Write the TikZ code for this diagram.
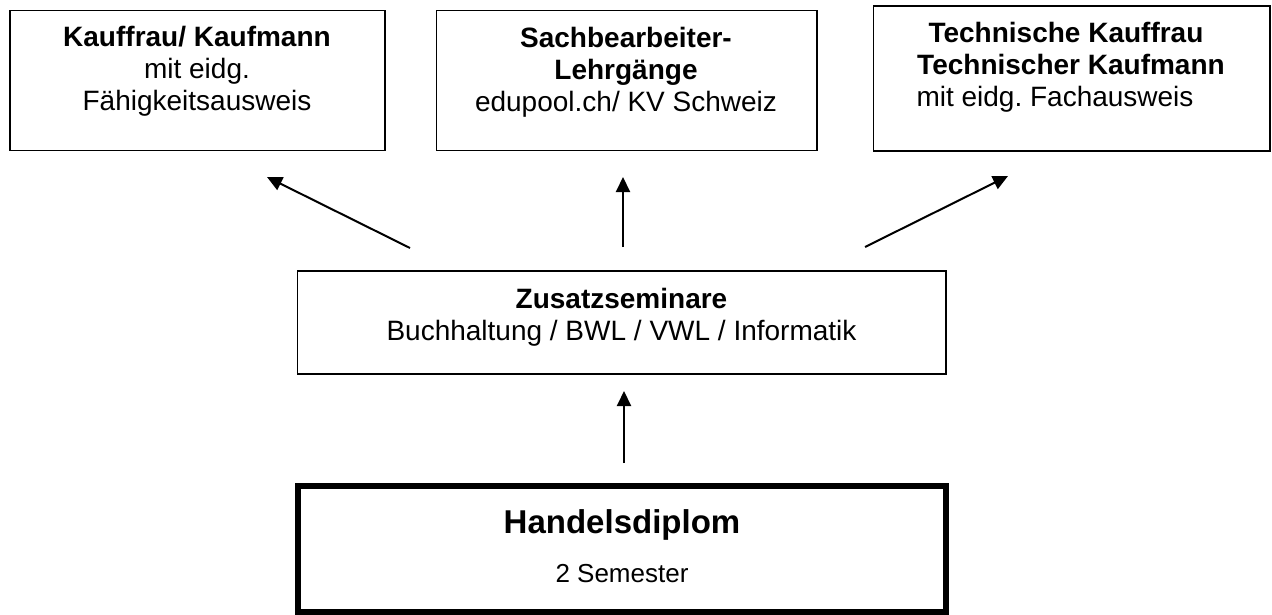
\documentclass[tikz,border=0pt]{standalone}
\usepackage{fontspec}
\setmainfont{Liberation Sans}
\usetikzlibrary{arrows.meta}
\frenchspacing
\begin{document}
\begin{tikzpicture}[x=1pt,y=-1pt,
  box/.style={draw, line width=1.5pt, rectangle, inner sep=0pt, outer sep=0pt},
  thickbox/.style={box, line width=6pt},
  txt/.style={inner sep=0pt, outer sep=0pt, align=center, anchor=north, font=\fontsize{28}{32}\selectfont\frenchspacing},
  arr/.style={line width=2pt, -{Triangle[length=15pt,width=14pt]}}]
\fill[white] (0,0) rectangle (1272,615);
\useasboundingbox (0,0) rectangle (1272,615);

% boxes
\node[box, minimum width=375pt, minimum height=140pt] (kauf) at (197.4,80.5) {};
\node[box, minimum width=380.5pt, minimum height=140pt] (sach) at (626.75,80.3) {};
\node[box, minimum width=396.5pt, minimum height=145pt] (tech) at (1071.75,78.5) {};
\node[box, minimum width=648.5pt, minimum height=103pt] (zus) at (621.75,322.5) {};
\node[thickbox, minimum width=648pt, minimum height=126pt] (hd) at (622,549) {};

% texts
\node[txt] (kauf-t) at (197,26.6) {\textbf{Kauffrau/ Kaufmann}\\mit eidg.\\Fähigkeitsausweis};
\node[txt] (sach-t) at (626,27.6) {\textbf{Sachbearbeiter-}\\\textbf{Lehrgänge}\\edupool.ch/ KV Schweiz};
\node[txt] (tech-t) at (1071,22.6) {\textbf{Technische Kauffrau}\rule{10pt}{0pt}\\\textbf{Technischer Kaufmann}\\mit eidg. Fachausweis\rule{32pt}{0pt}};
\node[txt] (zus-t) at (621.5,288) {\textbf{Zusatzseminare}\\Buchhaltung / BWL / VWL / Informatik};
\node[inner sep=0pt, anchor=base, font=\fontsize{33}{33}\selectfont\bfseries] (hd-t) at (622,533) {Handelsdiplom};
\node[inner sep=0pt, anchor=base, font=\fontsize{26}{26}\selectfont] (hd-s) at (622,582) {2 Semester};

% arrows
\coordinate (a1s) at (410,248); \coordinate (a1e) at (267,177);
\coordinate (a2s) at (623,247); \coordinate (a2e) at (623,177);
\coordinate (a3s) at (865,247); \coordinate (a3e) at (1008,176);
\coordinate (a4s) at (624,463); \coordinate (a4e) at (624,391);
\draw[arr] (a1s) -- (a1e);
\draw[arr] (a2s) -- (a2e);
\draw[arr] (a3s) -- (a3e);
\draw[arr] (a4s) -- (a4e);
\end{tikzpicture}
\end{document}
